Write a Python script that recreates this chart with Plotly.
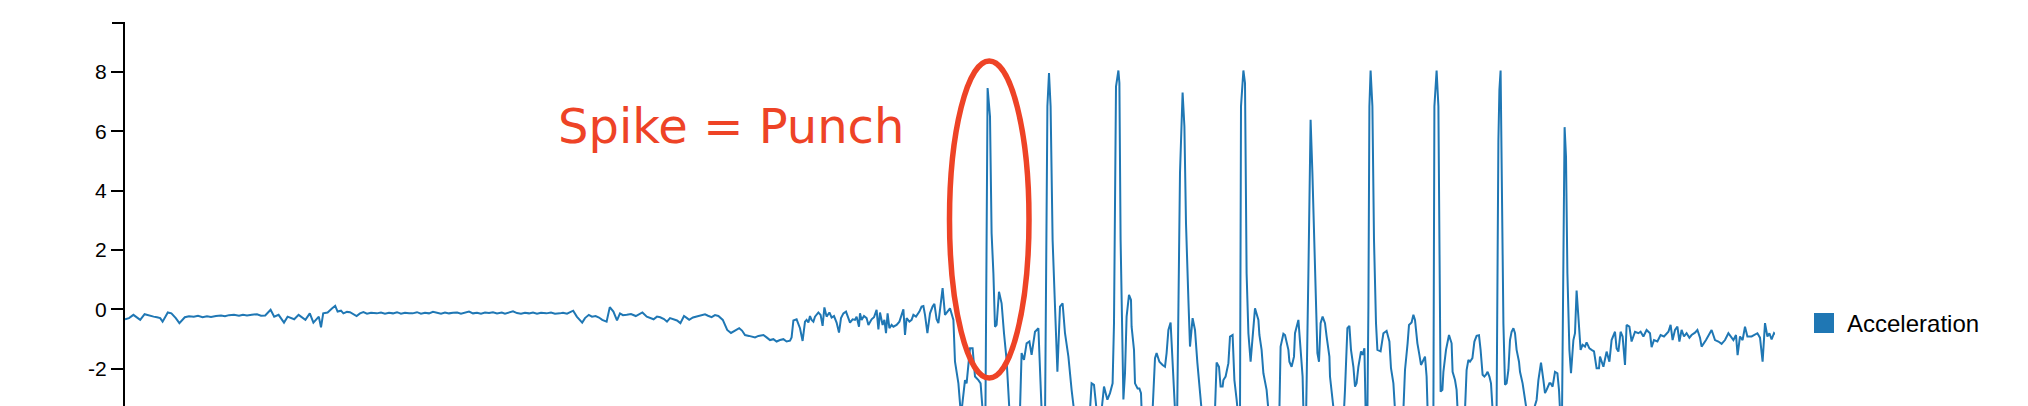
import plotly.graph_objects as go

# ---- data (sample index, acceleration) ----
calm_t = [0, 2, 4.2, 6, 7.6, 9.8, 12, 14.3, 16, 17.6, 18.8, 21.4, 23.2, 25.4, 27.2, 29.9, 32, 34.4, 36.5, 38.8,
          41, 43, 45.5, 48, 50, 52, 54.5, 57, 59, 61, 63.4, 66, 68, 70.1, 72.8, 74.6, 76.8, 79.5, 81.3, 83,
          84.6, 86.8, 88.5, 90.2, 92.4, 94.2, 96.9, 98.0, 99.1, 101.3, 103.6, 105.1, 106.3, 108, 109.2, 111,
          112.5, 114, 115.8, 117.5, 119.2, 121, 123, 125.9, 128, 130, 132, 134, 136, 138, 140, 142, 143.8,
          146, 148, 150, 152, 154, 156, 158, 160, 162, 164, 166.1, 168, 170, 172, 174, 176, 178, 180, 182,
          184, 186, 188.4, 190, 192, 194, 196, 198, 200, 202, 204, 206, 208, 210.7, 213, 215, 217.4, 219,
          221, 224.1, 225.9, 228.6, 230, 231.9, 233.5, 235.3, 237, 238.6, 240.8, 242.4, 244.2, 246.0, 247.5,
          249, 250.9, 253, 255.4, 257, 258.7, 260.9, 262.5, 264.3, 266, 267.6, 269.5, 271.0, 272.5, 274.3,
          276, 277.7, 279.5, 281, 282.1, 284, 286.6, 288, 290.0, 291.5, 293.3, 295, 296.7, 298.9, 301.1,
          303, 304.5, 307.1, 308.5, 310.0, 312, 313.4, 315, 316.7]
calm_v = [-0.34, -0.30, -0.19, -0.28, -0.36, -0.17, -0.22, -0.25, -0.27, -0.30, -0.42, -0.11, -0.14, -0.30, -0.47,
          -0.27, -0.24, -0.25, -0.22, -0.27, -0.24, -0.26, -0.23, -0.21, -0.24, -0.20, -0.19, -0.22, -0.19,
          -0.21, -0.19, -0.17, -0.22, -0.21, -0.02, -0.25, -0.19, -0.45, -0.25, -0.30, -0.34, -0.19, -0.28,
          -0.36, -0.14, -0.45, -0.25, -0.61, -0.14, -0.11, 0.03, 0.11, -0.08, -0.05, -0.14, -0.09, -0.10,
          -0.15, -0.23, -0.14, -0.10, -0.15, -0.12, -0.14, -0.11, -0.15, -0.12, -0.14, -0.10, -0.15, -0.12,
          -0.14, -0.14, -0.10, -0.15, -0.12, -0.14, -0.09, -0.13, -0.15, -0.11, -0.14, -0.12, -0.11, -0.15,
          -0.12, -0.08, -0.14, -0.12, -0.15, -0.11, -0.13, -0.10, -0.14, -0.11, -0.15, -0.12, -0.07, -0.13,
          -0.15, -0.12, -0.14, -0.11, -0.15, -0.12, -0.14, -0.11, -0.15, -0.14, -0.12, -0.15, -0.05, -0.25,
          -0.45, -0.30, -0.19, -0.25, -0.23, -0.28, -0.36, -0.42, 0.07, -0.08, -0.38, -0.14, -0.20, -0.19,
          -0.16, -0.23, -0.18, -0.11, -0.25, -0.30, -0.34, -0.25, -0.27, -0.33, -0.42, -0.30, -0.34, -0.38,
          -0.47, -0.23, -0.30, -0.36, -0.28, -0.23, -0.20, -0.17, -0.22, -0.27, -0.20, -0.23, -0.36, -0.70,
          -0.80, -0.75, -0.64, -0.72, -0.87, -0.90, -0.92, -0.95, -0.90]

ready_t = [319.2, 320.8, 322.5, 324.2, 325.8, 327.5, 329.2, 330.8, 332.5, 333.3, 334.2, 335.8, 337.5, 338.8,
           340.0, 340.8, 341.7, 342.5, 343.3, 344.2, 345.0, 346.7, 347.8, 348.8, 349.7, 350.8, 352.2, 353.3,
           354.5, 355.8, 357.0, 358.0, 359.2, 360.5, 361.7, 362.5, 363.8, 365.0, 365.8, 367.0, 367.5, 368.3,
           369.5, 370.8, 371.7, 373.3, 374.5, 375.8, 376.7, 377.5, 378.8, 379.7, 380.5, 381.3, 382.2, 383.3,
           384.2, 385.8, 387.2, 388.3, 389.2, 390.0, 390.8, 392.2, 393.3, 394.2, 395.5, 397.2, 398.3, 399.2,
           400.0, 401.2, 402.5, 403.8, 404.7, 405.8, 406.7, 408.8, 410, 412.5, 414.2]
ready_v = [-0.87, -0.95, -1.04, -1.01, -1.09, -1.04, -1.01, -1.09, -1.06, -0.95, -0.38, -0.34, -0.64, -1.07,
           -0.42, -0.36, -0.45, -0.23, -0.36, -0.42, -0.25, -0.11, -0.19, -0.56, 0.06, -0.25, -0.11, -0.28,
           -0.23, -0.45, -0.79, -0.30, -0.14, -0.08, -0.30, -0.45, -0.34, -0.36, -0.25, -0.59, -0.14, -0.36,
           -0.23, -0.30, -0.53, -0.34, -0.27, -0.02, -0.68, -0.11, -0.53, -0.36, -0.81, -0.14, -0.64, -0.53,
           -0.59, -0.53, -0.42, -0.14, 0.0, -0.87, -0.30, -0.42, -0.36, -0.19, -0.25, -0.08, 0.09, 0.11,
           -0.19, -0.81, -0.14, 0.09, 0.18, -0.34, -0.47, 0.71, -0.19, 0.03, -0.36]

punch_t = [415, 416.7, 418, 420, 420.8, 422.5, 423.8, 425, 426.7, 427.8, 428.8, 430.2, 431.3, 432.5, 433.3,
           434.2, 435, 435.8, 437, 438.3, 439.5, 440.8, 442.2, 445, 447.5, 448.3, 449.5, 450.8, 452.2, 453.3,
           455, 456.7, 458.3, 460, 461.2, 462, 462.8, 463.8, 465, 466.2, 467.5, 468.8, 470, 471.7, 473.3,
           474.5, 478, 482.5, 483.3, 484.5, 485.8, 487, 488.3, 489.5, 490.8, 491.2, 492.5, 493.8, 494.5,
           495.5, 496.7, 497.2, 497.8, 499.2, 500, 500.8, 502, 503, 503.3, 504.5, 505, 506.3, 507.2, 508,
           508.3, 511, 513.8, 514.2, 515, 515.8, 517.2, 518.8, 520, 520.8, 521.7, 522.8, 523.8, 525, 526,
           527.5, 528.3, 528.8, 529.7, 530.5, 531.7, 532.5, 533.8, 535, 536.2, 537.5, 538.3, 541, 545,
           545.8, 547, 547.8, 548.8, 549.2, 550.3, 551.7, 552.5, 553.8, 554.7, 555.8, 556.3, 557.5, 558,
           559.2, 560, 560.8, 561.7, 562.8, 563.8, 565, 566.7, 567.2, 568.3, 569.2, 570.8, 571.7, 574,
           577.2, 577.8, 579.2, 580, 581.7, 582.2, 583.3, 584.5, 585, 586.7, 587.5, 588.8, 589.2, 590.5,
           591.7, 592.2, 592.8, 593.7, 594.5, 595.5, 596.2, 597, 597.8, 598.8, 600, 600.8, 602.2, 602.5,
           603.8, 604.5, 607, 609.5, 610, 611.2, 612.2, 613, 614.2, 615, 615.8, 616.7, 618, 618.8, 619.7,
           620.3, 621.2, 621.7, 622.2, 622.8, 623.7, 624.5, 625.5, 626.2, 627.8, 629.2, 630.8, 632.2, 633,
           634.2, 635, 637, 639.2, 640, 641.3, 642, 643.3, 644.2, 645, 646.2, 647.2, 648, 648.8, 650,
           650.8, 651.3, 653, 654.2, 654.7, 655.8, 656.7, 657.2, 657.8, 658.7, 659.2, 660.5, 662, 663.3,
           663.8, 665, 665.8, 666.3, 668, 670, 670.8, 671.7, 672.5, 673.7, 674.7, 675.8, 677, 677.8, 678.8,
           679.7, 680.5, 681.3, 682.2, 683, 683.8, 685, 685.8, 686.7, 687.2, 687.8, 688.3, 689.2, 690,
           690.8, 691.7, 692.5, 693.3, 694.2, 695, 695.8, 697, 697.5, 698.8, 700, 700.8, 703, 705.8, 706.7,
           708, 709.2, 710, 710.8, 712.2, 712.8, 713.8, 715, 716.2, 717, 717.5, 718.5, 719.2, 719.8, 720.5,
           721.2, 722.2, 723, 724.2, 725, 725.8, 726.7, 727.8, 728.8, 730, 730.8, 732.2, 733.3, 734.5,
           735.8, 737]
punch_v = [-1.77, -2.50, -3.60, -2.39, -2.50, -1.32, -1.32, -2.27, -2.39, -2.50, -3.40, -3.70, 7.46, 6.50, 2.56,
           1.21, -0.59, -0.53, 0.59, 0.20, -0.81, -1.71, -3.40, -4.00, -3.40, -1.48, -1.71, -1.15, -1.09,
           -1.54, -0.76, -0.64, -3.40, -3.80, 6.84, 7.96, 6.84, 2.34, 0.09, -2.11, 0.09, 0.20, -0.81, -1.60,
           -2.72, -3.40, -4.20, -3.40, -2.50, -2.55, -3.40, -3.60, -3.40, -2.61, -2.95, -3.05, -2.83, -2.50,
           -0.47, 7.51, 8.05, 7.63, 2.34, -3.04, -2.16, -0.25, 0.48, 0.31, -0.59, -1.37, -2.50, -2.67, -2.67,
           -2.83, -3.40, -4.00, -3.40, -2.61, -1.65, -1.48, -1.77, -1.88, -1.94, -1.48, -0.70, -0.45, -1.60,
           -3.40, -4.00, 4.59, 6.28, 7.31, 6.16, 2.90, 0.31, -1.26, -0.30, -0.70, -1.82, -2.72, -3.40, -4.20,
           -3.40, -1.80, -1.94, -2.61, -2.61, -2.39, -2.27, -1.82, -0.92, -0.87, -2.39, -3.04, -3.40, -3.60,
           6.84, 8.05, 7.63, 1.21, -0.81, -1.77, -0.92, 0.03, -0.36, -0.87, -1.37, -2.16, -2.72, -3.40, -4.20,
           -3.40, -1.26, -0.83, -0.87, -1.37, -1.77, -1.94, -1.60, -0.81, -0.36, -1.04, -2.27, -3.40, -3.80,
           1.21, 4.59, 6.39, 4.59, 2.34, 0.09, -1.48, -1.77, -0.47, -0.25, -0.47, -0.92, -1.60, -2.27,
           -3.17, -3.50, -4.20, -3.40, -2.72, -0.64, -0.56, -1.37, -1.94, -2.61, -2.50, -1.94, -1.42, -1.54,
           -1.32, -3.40, -3.60, 0.09, 6.84, 8.05, 6.84, 2.34, -0.47, -1.37, -1.42, -0.81, -0.73, -1.09,
           -1.99, -2.50, -3.40, -4.20, -3.40, -2.05, -1.15, -0.53, -0.45, -0.19, -0.36, -1.15, -1.54, -1.88,
           -1.77, -1.60, -2.27, -3.40, -3.80, -3.40, 6.84, 8.05, 6.84, 2.34, -2.78, -2.72, -2.11, -1.37,
           -0.87, -1.15, -2.11, -2.39, -2.72, -3.40, -4.00, -3.40, -2.05, -1.71, -1.77, -1.65, -1.09, -0.90,
           -0.88, -1.37, -2.21, -2.27, -2.21, -2.11, -2.27, -2.50, -3.40, -3.80, -3.40, 5.71, 7.40, 8.05,
           4.59, -0.47, -2.55, -2.50, -2.05, -1.04, -0.76, -0.64, -0.81, -1.37, -1.77, -2.11, -2.50, -2.95,
           -3.40, -3.70, -3.06, -2.39, -1.80, -2.39, -2.83, -2.72, -2.50, -2.50, -2.61, -2.11, -2.16, -2.72,
           -3.40, -3.60, 3.46, 6.14, 5.15, 1.21, -1.37, -2.16, -1.04, -0.81, 0.63, -0.47, -1.37, -1.20,
           -1.26, -1.12, -1.32, -1.37, -1.42, -1.99, -1.99]

rest_t = [737.5, 739.2, 740.8, 742.2, 743.3, 745, 745.8, 746.7, 747.8, 748.8, 750, 750.8, 752.2, 753.3, 755,
          756.7, 757.8, 759.2, 760.8, 762.5, 763.3, 764.5, 766.2, 767.8, 769.5, 771.7, 772.8, 773.8, 775,
          776.2, 777.2, 778.3, 779.5, 780.8, 782.2, 783.3, 785, 786.2, 787.5, 788.3, 790.5, 792.2, 793.3,
          795, 796.7, 798.3, 800, 801.7, 803, 804.2, 805.5, 806.3, 807.5, 808.8, 810, 811.2, 813.3, 815,
          816.2, 817.5, 818.8, 820, 821.2, 822.2, 823.3, 824.5, 825]
rest_v = [-1.60, -1.94, -1.43, -1.77, -1.04, -0.76, -1.32, -1.43, -0.76, -0.92, -1.88, -0.53, -0.59, -1.09,
          -0.76, -0.81, -0.76, -0.92, -0.70, -0.81, -1.28, -1.04, -1.09, -0.87, -0.92, -0.76, -0.53, -1.04,
          -0.70, -0.59, -1.09, -0.70, -0.92, -0.81, -0.96, -0.87, -0.79, -0.70, -0.96, -1.26, -1.04, -0.81,
          -0.70, -1.04, -1.09, -1.17, -1.04, -0.81, -0.92, -1.04, -0.87, -1.55, -0.92, -1.04, -0.59, -0.92,
          -0.92, -0.87, -0.81, -0.96, -1.77, -0.47, -0.92, -0.81, -1.02, -0.81, -0.85]

y_ticks = [-2, 0, 2, 4, 6, 8]
series_name = "Acceleration"
note_text = "Spike = Punch"

t_all = calm_t + ready_t + punch_t + rest_t
v_all = calm_v + ready_v + punch_v + rest_v

# ---- geometry (window pixels; the page body adds an 8px offset) ----
OFF = 8
W, H = 2028 - OFF, 406 - OFF
L, R, T, B = 125, 1775, 23, 406          # plot area in window pixels
pw, ph = R - L, B - T


def px(x):
    return (x - L) / pw


def py(y):
    return (B - y) / ph


BLUE = "#1f77b4"
RED = "#EE4326"
FONT = "Liberation Sans, Arial, Helvetica, sans-serif"

fig = go.Figure()
fig.add_trace(go.Scatter(x=t_all, y=v_all, mode="lines",
                         line=dict(color=BLUE, width=2), name=series_name,
                         showlegend=False, hoverinfo="skip"))

fig.update_layout(
    width=W, height=H,
    margin=dict(l=L - OFF, r=(W + OFF) - R, t=T - OFF, b=0, pad=0),
    paper_bgcolor="white", plot_bgcolor="white",
    showlegend=False,
    xaxis=dict(range=[0, 825], visible=False, fixedrange=True),
    yaxis=dict(range=[-3.264, 9.652], tickvals=y_ticks, ticktext=[str(v) for v in y_ticks],
               showgrid=False, zeroline=False, showline=True, linecolor="black", linewidth=2,
               ticks="outside", ticklen=12, tickwidth=2, tickcolor="black",
               tickfont=dict(family=FONT, size=21, color="black"), fixedrange=True),
    shapes=[
        # top outer tick of the y axis
        dict(type="line", xref="paper", yref="paper", x0=px(L - 13), x1=px(L), y0=1, y1=1,
             line=dict(color="black", width=2)),
        # highlight ellipse
        dict(type="circle", xref="paper", yref="paper",
             x0=px(949.5), x1=px(1029), y0=py(378), y1=py(61),
             line=dict(color=RED, width=5.5), layer="above"),
        # legend swatch
        dict(type="rect", xref="paper", yref="paper",
             x0=px(1814), x1=px(1834), y0=py(333), y1=py(313),
             fillcolor=BLUE, line=dict(width=0)),
    ],
    annotations=[
        dict(text=note_text, xref="paper", yref="paper", x=px(556), y=py(126),
             xanchor="left", yanchor="middle", showarrow=False,
             font=dict(family="DejaVu Sans, Verdana, sans-serif", size=48, color=RED)),
        dict(text=series_name, xref="paper", yref="paper", x=px(1845), y=py(323),
             xanchor="left", yanchor="middle", showarrow=False,
             font=dict(family=FONT, size=24, color="black")),
    ],
)

fig.write_html("out.html")
